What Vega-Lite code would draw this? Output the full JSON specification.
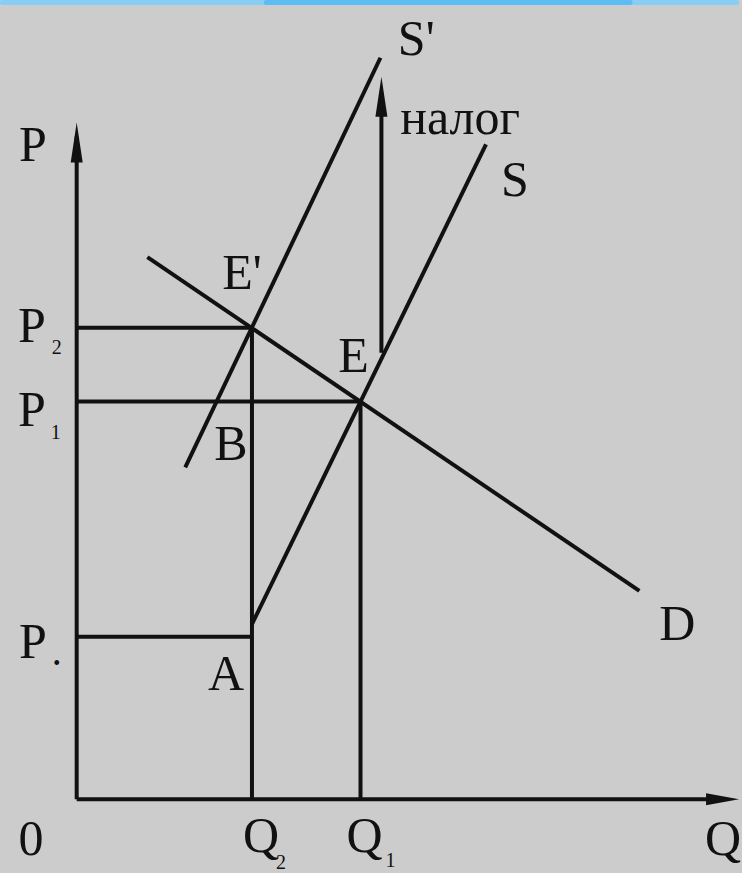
{
  "$schema": "https://vega.github.io/schema/vega-lite/v6.json",
  "width": 742,
  "height": 873,
  "autosize": {"type": "fit", "contains": "padding"},
  "padding": 0,
  "background": "#cccccc",
  "config": {"view": {"stroke": null}},
  "resolve": {"scale": {"size": "independent", "color": "independent", "shape": "independent", "strokeWidth": "independent"}},
  "datasets": {
    "bands": [
      {"tone": "light", "x": -1.1, "x2": 9.5, "y": 11.385, "y2": 11.457},
      {"tone": "dark", "x": 2.686, "x2": 7.971, "y": 11.385, "y2": 11.457}
    ],
    "segments": [
      {"name": "P axis", "kind": "axis", "x": 0, "y": 0, "x2": 0, "y2": 9.5},
      {"name": "Q axis", "kind": "axis", "x": 0, "y": 0, "x2": 9.3, "y2": 0},
      {"name": "D", "kind": "curve", "x": 1.014, "y": 7.771, "x2": 8.071, "y2": 2.986},
      {"name": "S'", "kind": "curve", "x": 1.557, "y": 4.757, "x2": 4.357, "y2": 10.629},
      {"name": "S", "kind": "curve", "x": 2.514, "y": 2.51, "x2": 5.871, "y2": 9.386},
      {"name": "налог", "kind": "guide", "x": 4.371, "y": 6.4, "x2": 4.371, "y2": 10.03},
      {"name": "P2", "kind": "bold", "x": 0, "y": 6.757, "x2": 2.514, "y2": 6.757},
      {"name": "P1", "kind": "bold", "x": 0, "y": 5.7, "x2": 4.071, "y2": 5.7},
      {"name": "Pa", "kind": "guide", "x": 0, "y": 2.329, "x2": 2.514, "y2": 2.329},
      {"name": "Q2", "kind": "guide", "x": 2.514, "y": 0, "x2": 2.514, "y2": 6.757},
      {"name": "Q1", "kind": "guide", "x": 4.071, "y": 0, "x2": 4.071, "y2": 5.7}
    ],
    "arrows": [
      {"dir": "up", "x": 0, "y": 9.414},
      {"dir": "right", "x": 9.264, "y": 0},
      {"dir": "up", "x": 4.371, "y": 10.071}
    ],
    "labels": [
      {"text": "P", "kind": "main", "x": -0.629, "y": 9.143},
      {"text": "P", "kind": "main", "x": -0.643, "y": 6.557},
      {"text": "2", "kind": "sub", "x": -0.286, "y": 6.386},
      {"text": "P", "kind": "main", "x": -0.643, "y": 5.357},
      {"text": "1", "kind": "sub", "x": -0.3, "y": 5.171},
      {"text": "P", "kind": "main", "x": -0.629, "y": 2.029},
      {"text": "•", "kind": "sub", "x": -0.286, "y": 1.857},
      {"text": "0", "kind": "main", "x": -0.657, "y": -0.8},
      {"text": "Q", "kind": "main", "x": 2.643, "y": -0.757},
      {"text": "2", "kind": "sub", "x": 2.929, "y": -1.0},
      {"text": "Q", "kind": "main", "x": 4.129, "y": -0.757},
      {"text": "1", "kind": "sub", "x": 4.5, "y": -0.97},
      {"text": "Q", "kind": "main", "x": 9.271, "y": -0.8},
      {"text": "S'", "kind": "main", "x": 4.871, "y": 10.671},
      {"text": "налог", "kind": "main", "x": 5.5, "y": 9.529},
      {"text": "S", "kind": "main", "x": 6.286, "y": 8.643},
      {"text": "E'", "kind": "main", "x": 2.371, "y": 7.314},
      {"text": "E", "kind": "main", "x": 3.971, "y": 6.129},
      {"text": "B", "kind": "main", "x": 2.214, "y": 4.857},
      {"text": "A", "kind": "main", "x": 2.143, "y": 1.571},
      {"text": "D", "kind": "main", "x": 8.614, "y": 2.286}
    ]
  },
  "encoding": {
    "x": {"field": "x", "type": "quantitative", "scale": {"domain": [-1.1, 9.5], "nice": false, "zero": false}, "axis": null},
    "y": {"field": "y", "type": "quantitative", "scale": {"domain": [-1.0143, 11.457], "nice": false, "zero": false}, "axis": null}
  },
  "layer": [
    {
      "data": {"name": "bands"},
      "mark": {"type": "rect", "cornerRadius": 2},
      "encoding": {
        "x2": {"field": "x2"},
        "y2": {"field": "y2"},
        "color": {"field": "tone", "type": "nominal", "scale": {"domain": ["light", "dark"], "range": ["#87cdf6", "#5bbdf4"]}, "legend": null}
      }
    },
    {
      "data": {"name": "segments"},
      "mark": {"type": "rule", "color": "#111111", "strokeCap": "butt"},
      "encoding": {
        "x2": {"field": "x2"},
        "y2": {"field": "y2"},
        "strokeWidth": {"field": "kind", "type": "nominal", "scale": {"domain": ["axis", "curve", "bold", "guide"], "range": [4, 4, 5, 3.5]}, "legend": null}
      }
    },
    {
      "data": {"name": "arrows"},
      "mark": {"type": "point", "filled": true, "color": "#111111", "opacity": 1, "strokeWidth": 0},
      "encoding": {
        "shape": {"field": "dir", "type": "nominal", "scale": {"domain": ["up", "right"], "range": ["M0,-1L0.3,1L-0.3,1Z", "M1,0L-1,-0.36L-1,0.36Z"]}, "legend": null},
        "size": {"field": "dir", "type": "nominal", "scale": {"domain": ["up", "right"], "range": [1600, 1089]}, "legend": null}
      }
    },
    {
      "data": {"name": "labels"},
      "mark": {"type": "text", "font": "Liberation Serif", "color": "#111111", "align": "center", "baseline": "alphabetic"},
      "encoding": {
        "text": {"field": "text"},
        "size": {"field": "kind", "type": "nominal", "scale": {"domain": ["main", "sub"], "range": [50, 20]}, "legend": null}
      }
    }
  ]
}
